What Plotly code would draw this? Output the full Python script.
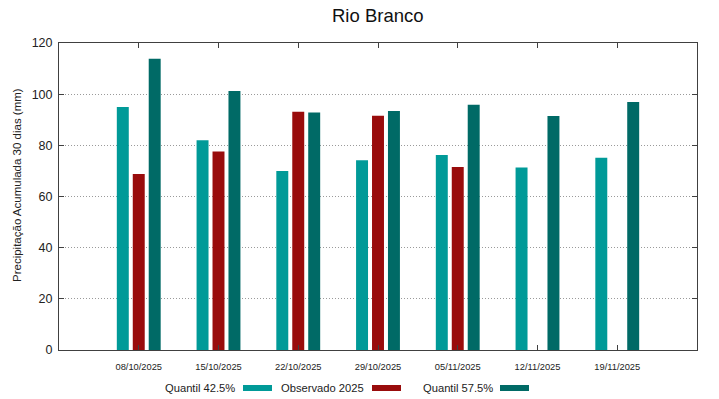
import plotly.graph_objects as go

dates = ["08/10/2025", "15/10/2025", "22/10/2025", "29/10/2025",
         "05/11/2025", "12/11/2025", "19/11/2025"]
q425 = [95.0, 82.0, 70.0, 74.2, 76.2, 71.3, 75.1]
obs2025 = [68.8, 77.6, 93.1, 91.6, 71.5, None, None]
q575 = [113.8, 101.2, 92.8, 93.4, 95.9, 91.5, 96.9]

series_names = ["Quantil 42.5%", "Observado 2025", "Quantil 57.5%"]
series_colors = ["#009a98", "#990c0c", "#006a66"]
series_values = [q425, obs2025, q575]

FONT = "Liberation Sans, Arial, sans-serif"

fig = go.Figure()
for name, color, vals in zip(series_names, series_colors, series_values):
    fig.add_trace(go.Bar(
        x=dates, y=vals, name=name,
        marker=dict(color=color, line=dict(width=0)),
        showlegend=False,
    ))

axis_common = dict(
    showline=True, linecolor="#404040", linewidth=1, mirror="ticks",
    ticks="inside", ticklen=5, tickcolor="#404040", automargin=False,
)

L, R, T, B = 59, 22, 43, 49
W, H = 719, 399
PW, PH = W - L - R, H - T - B

fig.update_layout(
    width=W, height=H,
    margin=dict(l=L, r=R, t=T, b=B, autoexpand=False),
    paper_bgcolor="white", plot_bgcolor="white",
    barmode="group", bargap=0.4, bargroupgap=0.25,
    font=dict(family=FONT, color="#222222"),
    xaxis=dict(**axis_common, type="category", range=[-1, 7],
               showgrid=False, ticklabelstandoff=8,
               tickfont=dict(size=9.3, color="#222222")),
    yaxis=dict(**axis_common, range=[0, 120], dtick=20, ticklabelstandoff=3,
               showgrid=True, gridcolor="#9a9a9a", griddash="1px,2px", gridwidth=1,
               zeroline=False, tickfont=dict(size=12.5, color="#222222")),
)

# y-axis title
fig.add_annotation(text="Precipitação Acumulada 30 dias (mm)", xref="paper", yref="paper",
                   x=(17 - L) / PW, y=(H - B - 185) / PH, textangle=-90,
                   xanchor="center", yanchor="middle", showarrow=False,
                   font=dict(size=11.5, color="#222222"))

# title
fig.add_annotation(text="Rio Branco", xref="paper", yref="paper",
                   x=0.5, y=(H - B - 16) / PH, xanchor="center", yanchor="middle",
                   showarrow=False, font=dict(size=18.5, color="#111111"))

# gnuplot-style legend: text followed by colour swatch
legend_text_right = [237, 366, 495]
swatch_left = [243, 372, 500]
swatch_w = 29
ly = 388
for name, color, tx, sx in zip(series_names, series_colors, legend_text_right, swatch_left):
    fig.add_annotation(text=name, xref="paper", yref="paper",
                       x=(tx - L) / PW, y=(H - B - ly) / PH,
                       xanchor="right", yanchor="middle", showarrow=False,
                       font=dict(size=11.2, color="#222222"))
    fig.add_shape(type="rect", xref="paper", yref="paper",
                  x0=(sx - L) / PW, x1=(sx + swatch_w - L) / PW,
                  y0=(H - B - ly - 3) / PH, y1=(H - B - ly + 3) / PH,
                  fillcolor=color, line=dict(width=0))

fig.write_html("out.html", config={"displayModeBar": False},
               post_script="document.body.style.margin='0';document.body.style.overflow='hidden';")
